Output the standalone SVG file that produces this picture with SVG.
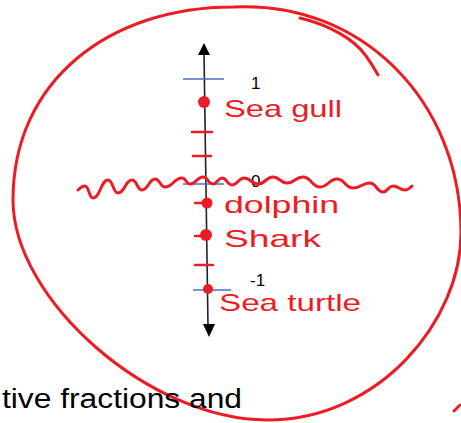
<svg xmlns="http://www.w3.org/2000/svg" width="461" height="423" viewBox="0 0 461 423">
<style>
.ink{fill:none;stroke:#ED1C24;stroke-width:3;stroke-linecap:round;stroke-linejoin:round}
.tick{stroke:#ED1C24;stroke-width:2.5;stroke-linecap:round}
.blue{stroke:#4472C4;stroke-width:1.3}
.dot{fill:#ED1C24}
.hand{font-family:"Liberation Sans","DejaVu Sans",sans-serif;fill:#ED1C24;font-size:24px}
.num{font-family:"Liberation Sans",Arial,sans-serif;fill:#000;font-size:17px}
</style>
<rect width="461" height="423" fill="#fff"/>
<g id="axis">
  <line x1="204" y1="52" x2="208" y2="326" stroke="#222" stroke-width="1.6"/>
  <polygon points="204,43 198,55 210,55" fill="#000"/>
  <polygon points="209,337 203,324 215,324" fill="#000"/>
  <line class="blue" x1="183" y1="79" x2="224" y2="79"/>
  <line class="blue" x1="183" y1="184" x2="224" y2="184"/>
  <line class="blue" x1="193" y1="290" x2="231" y2="290"/>
  <line class="tick" x1="192" y1="132" x2="212" y2="132"/>
  <line class="tick" x1="193" y1="156" x2="211" y2="156"/>
  <line class="tick" x1="195" y1="203" x2="206" y2="203"/>
  <line class="tick" x1="195" y1="236" x2="206" y2="236"/>
  <line class="tick" x1="195" y1="265" x2="213" y2="265"/>
</g>
<g id="labels">
  <text class="num" x="251" y="89">1</text>
  <text class="num" x="251" y="187" font-size="19">0</text>
  <text class="num" x="250" y="286">-1</text>
</g>
<g id="seagull">
  <circle class="dot" cx="204" cy="102" r="6"/>
  <text class="hand" x="224" y="117" textLength="118" lengthAdjust="spacingAndGlyphs">Sea gull</text>
</g>
<g id="dolphin">
  <circle class="dot" cx="207" cy="203" r="5.5"/>
  <text class="hand" x="224" y="213" textLength="115" lengthAdjust="spacingAndGlyphs">dolphin</text>
</g>
<g id="shark">
  <circle class="dot" cx="206" cy="235" r="6"/>
  <text class="hand" x="224" y="247" textLength="97" lengthAdjust="spacingAndGlyphs">Shark</text>
</g>
<g id="seaturtle">
  <circle class="dot" cx="208" cy="289" r="5"/>
  <text class="hand" x="219" y="311" font-size="23" textLength="142" lengthAdjust="spacingAndGlyphs">Sea turtle</text>
</g>
<g id="connectors">
  <path class="ink" d="M78,190 C81,187 83,186 85,186 C89,186 89,198 93,198 C100,198 101,180 108,180 C113,180 113,193 118,193 C125,193 125,180 132,180 C137,180 137,190 142,190 C148,190 149,179 155,179 C160,179 160,187 165,187 C173,187 174,178 182,178 C186,178 186,184 190,184 C196,184 197,177 203,177 C208,177 208,184 213,184 C217,184 218,178 222,178 C227,178 227,185 232,185 C237,185 239,178 244,178 C251,178 251,184 258,184 C265,184 266,177 273,177 C280,177 280,183 287,183 C295,183 295,177 303,177 C311,177 312,187 320,187 C328,187 329,179 337,179 C345,179 345,188 353,188 C361,188 362,183 370,183 C376,183 377,192 383,192 C388,192 388,186 393,186 C399,186 399,190 405,190 C408,190 410,188 412,186"/>
  <path class="ink" d="M233,7 C360,0 461,100 461,233 C461,320 380,420 267,420 C150,420 13,300 13,200 C13,80 110,7 233,7 Z"/>
  <path class="ink" d="M300,18 C330,25 355,40 366,56 C372,64 375,70 378,75"/>
  <path class="ink" d="M454,411 L460,405"/>
</g>
<text x="2" y="408" font-family="Liberation Sans,Arial,sans-serif" font-size="27" fill="#000" textLength="240" lengthAdjust="spacingAndGlyphs">tive fractions and</text>
</svg>
